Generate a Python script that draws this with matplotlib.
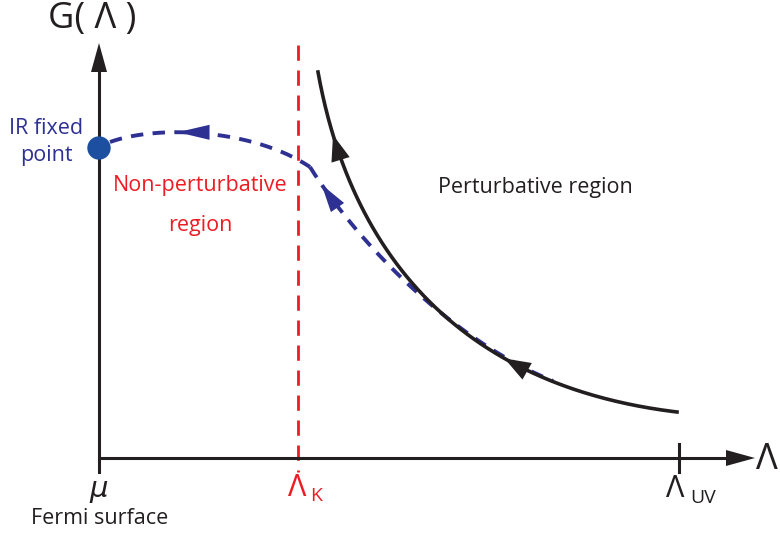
import numpy as np
import matplotlib.pyplot as plt
from matplotlib.patches import Polygon, Circle

plt.rcParams['font.family'] = ['Open Sans', 'DejaVu Sans']

# colours
ink = '#231F20'
red = '#ED1C24'
blue = '#2E3192'
dot_blue = '#1C4FA0'

# schematic geometry, in pixel units of the 780x535 canvas (y grows downward)
origin = (99, 458)
x_axis_end = 755
y_axis_end = 43
lambda_k = 298
lambda_uv = 679
tick_bottom = 472

# RG flow curves as cubic Bezier control points
flow_ctrl = [(318, 72), (354, 272), (477, 388), (677, 412)]
ir_ctrl_a = [(110, 142), (160, 124), (255, 130), (310, 167)]
ir_ctrl_b = [(310, 167), (348, 228), (440, 335), (553, 381)]
ir_point = (99, 148)

# arrow positions as Bezier parameters
flow_arrows = [0.11, 0.67]
ir_arrows_a = [0.36]
ir_arrows_b = [0.09]


def bezier(ctrl, t):
    p = np.array(ctrl, dtype=float)
    t = np.atleast_1d(t)[:, None]
    return ((1 - t) ** 3 * p[0] + 3 * (1 - t) ** 2 * t * p[1]
            + 3 * (1 - t) * t ** 2 * p[2] + t ** 3 * p[3])


def bezier_dir(ctrl, t):
    p = np.array(ctrl, dtype=float)
    d = (3 * (1 - t) ** 2 * (p[1] - p[0]) + 6 * (1 - t) * t * (p[2] - p[1])
         + 3 * t ** 2 * (p[3] - p[2]))
    return d / np.hypot(*d)


def head(ax, tip, direction, color, length=26, width=15, z=5):
    direction = np.asarray(direction, dtype=float)
    direction = direction / np.hypot(*direction)
    normal = np.array([-direction[1], direction[0]])
    tip = np.asarray(tip, dtype=float).ravel()
    base = tip - direction * length
    pts = [tip, base + normal * width / 2, base - normal * width / 2]
    ax.add_patch(Polygon(pts, closed=True, color=color, lw=0, zorder=z))


fig = plt.figure(figsize=(7.8, 5.35), dpi=100)
ax = fig.add_axes([0, 0, 1, 1])
ax.set_xlim(0, 780)
ax.set_ylim(535, 0)
ax.axis('off')

t = np.linspace(0, 1, 300)

# axes with arrow heads
ax.plot([origin[0], x_axis_end - 20], [origin[1], origin[1]], color=ink, lw=2.2, zorder=3)
head(ax, (x_axis_end, origin[1]), (1, 0), ink, length=29, width=16)
ax.plot([origin[0], origin[0]], [tick_bottom, y_axis_end + 20], color=ink, lw=2.2, zorder=3)
head(ax, (origin[0], y_axis_end), (0, -1), ink, length=29, width=16)
ax.plot([lambda_uv, lambda_uv], [444, tick_bottom], color=ink, lw=2.2, zorder=3)

# Lambda_K cutoff line
ax.plot([lambda_k, lambda_k], [45, tick_bottom], color=red, lw=2.0,
        dashes=(5.5, 3.5), zorder=2)

# IR flow (blue dashed)
for ctrl in (ir_ctrl_a, ir_ctrl_b):
    c = bezier(ctrl, t)
    ax.plot(c[:, 0], c[:, 1], color=blue, lw=2.8, dashes=(3.2, 2.4),
            solid_capstyle='butt', zorder=3)
for s in ir_arrows_a:
    head(ax, bezier(ir_ctrl_a, s), -bezier_dir(ir_ctrl_a, s), blue, length=32, width=15)
for s in ir_arrows_b:
    head(ax, bezier(ir_ctrl_b, s), -bezier_dir(ir_ctrl_b, s), blue, length=28, width=16)
ax.add_patch(Circle(ir_point, 11, color=dot_blue, zorder=6))

# perturbative flow (black solid)
cf = bezier(flow_ctrl, t)
ax.plot(cf[:, 0], cf[:, 1], color=ink, lw=2.6, zorder=4)
for s in flow_arrows:
    head(ax, bezier(flow_ctrl, s), -bezier_dir(flow_ctrl, s), ink, length=26, width=19)

# labels
ax.text(92, 19, 'G( Λ )', fontsize=26, color=ink, ha='center', va='center')
ax.text(756, 460, 'Λ', fontsize=26, color=ink, ha='left', va='center')
ax.text(origin[0], 489, 'μ', fontsize=21, color=ink, ha='center', va='center',
        style='italic', family='DejaVu Sans')
ax.text(100, 519, 'Fermi surface', fontsize=15.5, color=ink, ha='center', va='center')
ax.text(lambda_k - 1, 488, 'Λ', fontsize=22, color=red, ha='center', va='center')
ax.text(lambda_k + 12, 496, 'K', fontsize=14, color=red, ha='left', va='center')
ax.text(lambda_uv - 4, 489, 'Λ', fontsize=22, color=ink, ha='center', va='center')
ax.text(lambda_uv + 11, 498, 'UV', fontsize=14, color=ink, ha='left', va='center')
ax.text(46, 129, 'IR fixed', fontsize=15.5, color=blue, ha='center', va='center')
ax.text(46, 156, 'point', fontsize=15.5, color=blue, ha='center', va='center')
ax.text(200, 186, 'Non-perturbative', fontsize=15.5, color=red, ha='center', va='center')
ax.text(200, 225, 'region', fontsize=15.5, color=red, ha='center', va='center')
ax.text(535, 187, 'Perturbative region', fontsize=15.5, color=ink, ha='center', va='center')

fig.savefig('out.png', dpi=100)
